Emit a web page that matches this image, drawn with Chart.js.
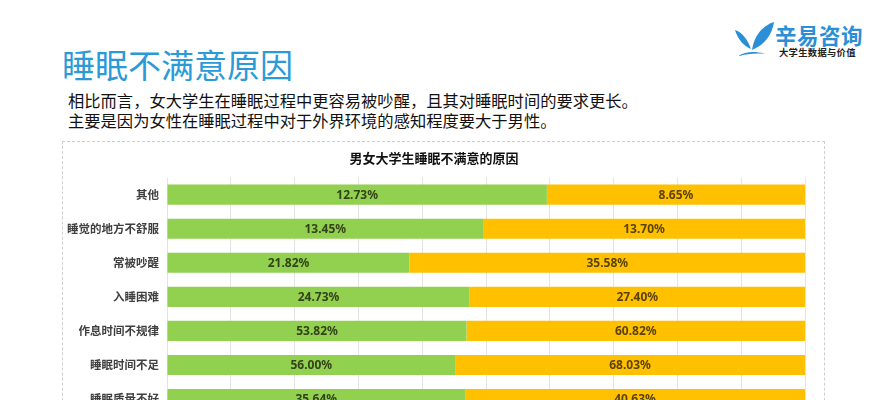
<!DOCTYPE html>
<html>
<head>
<meta charset="utf-8">
<script src="https://cdn.jsdelivr.net/npm/chart.js@4"></script>
<style>
  html, body { margin: 0; padding: 0; background: #fff; }
  body { width: 888px; height: 400px; overflow: hidden; position: relative;
         font-family: "Noto Sans CJK SC", "Noto Sans", sans-serif; }
  #title { position: absolute; left: 62px; top: 44px; font-size: 33px; line-height: 40px;
           color: #2b9ad8; font-weight: 400; }
  .sub { position: absolute; left: 68px; font-size: 16.3px; line-height: 20px; color: #111; }
  #logoTxt { position: absolute; left: 775px; top: 22px; font-size: 21.5px; font-weight: 700;
             color: #2a8fd6; line-height: 26px; letter-spacing: 0.5px; }
  #logoSub { position: absolute; left: 779px; top: 46px; font-size: 9.3px; font-weight: 700;
             color: #222; line-height: 12px; letter-spacing: 0.3px; }
  #box { position: absolute; left: 62px; top: 141px; width: 763px; height: 300px;
         border: 1px dashed #cfcfcf; box-sizing: border-box; }
  #wrap { position: absolute; left: 63px; top: 142px; width: 762px; height: 289px; }
</style>
</head>
<body>
<div id="title">睡眠不满意原因</div>
<div class="sub" style="top:90px">相比而言，女大学生在睡眠过程中更容易被吵醒，且其对睡眠时间的要求更长。</div>
<div class="sub" style="top:110px">主要是因为女性在睡眠过程中对于外界环境的感知程度要大于男性。</div>
<svg style="position:absolute;left:730px;top:18px" width="48" height="42" viewBox="0 0 48 42">
  <path d="M22 32 C24 18 32 8 44 4 C42 16 36 26 22 32 Z" fill="#2a8fd6"/>
  <path d="M5 12 C12 14 18 22 21 31 C14 28 8 22 5 12 Z" fill="#2a8fd6"/>
  <path d="M8 38 C16 33 26 33 36 36 C26 35 17 36 8 38 Z" fill="#2a8fd6"/>
</svg>
<div id="logoTxt">辛易咨询</div>
<div id="logoSub">大学生数据与价值</div>
<div id="box"></div>
<div id="wrap"><canvas id="myChart"></canvas></div>
<script>
const categories = ['其他', '睡觉的地方不舒服', '常被吵醒', '入睡困难', '作息时间不规律', '睡眠时间不足', '睡眠质量不好'];
const maleValues = [12.73, 13.45, 21.82, 24.73, 53.82, 56.00, 35.64];
const femaleValues = [8.65, 13.70, 35.58, 27.40, 60.82, 68.03, 40.63];
const xTicks = [0, 10, 20, 30, 40, 50, 60, 70, 80, 90, 100];

// 100% 堆积：按每行合计换算成占比
function share(a, b) {
  return a.map(function (v, i) { return v / (a[i] + b[i]) * 100; });
}

const labelPlugin = {
  id: 'barLabels',
  afterDatasetsDraw(chart) {
    const ctx = chart.ctx;
    ctx.save();
    ctx.font = 'bold 12px "Noto Sans", "Noto Sans CJK SC", sans-serif';
    ctx.textAlign = 'center';
    ctx.textBaseline = 'middle';
    chart.data.datasets.forEach(function (ds, di) {
      const meta = chart.getDatasetMeta(di);
      meta.data.forEach(function (bar, i) {
        ctx.fillStyle = ds.labelColor;
        ctx.fillText(ds.rawValues[i].toFixed(2) + '%', (bar.x + bar.base) / 2, bar.y + 1);
      });
    });
    ctx.restore();
  }
};

const ctx = document.getElementById('myChart').getContext('2d');
const myChart = new Chart(ctx, {
  type: 'bar',
  data: {
    labels: categories,
    datasets: [{
      label: '男',
      data: share(maleValues, femaleValues),
      rawValues: maleValues,
      labelColor: '#33421a',
      backgroundColor: '#92d050',
      categoryPercentage: 1,
      barPercentage: 0.59
    }, {
      label: '女',
      data: share(femaleValues, maleValues),
      rawValues: femaleValues,
      labelColor: '#5a4308',
      backgroundColor: '#ffc000',
      categoryPercentage: 1,
      barPercentage: 0.59
    }]
  },
  options: {
    indexAxis: 'y',
    responsive: true,
    maintainAspectRatio: false,
    animation: false,
    layout: { padding: { left: 0, right: 20, top: 0, bottom: 2 } },
    plugins: {
      legend: { display: false },
      tooltip: { enabled: false },
      title: {
        display: true,
        text: '男女大学生睡眠不满意的原因',
        color: '#111',
        font: { size: 13, weight: 'bold', family: '"Noto Sans CJK SC", sans-serif' },
        padding: { top: 8, bottom: 12 }
      }
    },
    scales: {
      x: {
        stacked: true,
        min: 0,
        max: 100,
        afterBuildTicks(scale) { scale.ticks = xTicks.map(function (v) { return { value: v }; }); },
        ticks: { display: false },
        grid: { color: '#e3e3e3', drawTicks: false },
        border: { display: false }
      },
      y: {
        stacked: true,
        afterFit(scale) { scale.width = 104; },
        ticks: {
          color: '#404040',
          padding: 8,
          font: { size: 11.5, weight: 'bold', family: '"Noto Sans CJK SC", sans-serif' }
        },
        grid: { display: false, drawTicks: false },
        border: { display: false }
      }
    }
  },
  plugins: [labelPlugin]
});
</script>
</body>
</html>
